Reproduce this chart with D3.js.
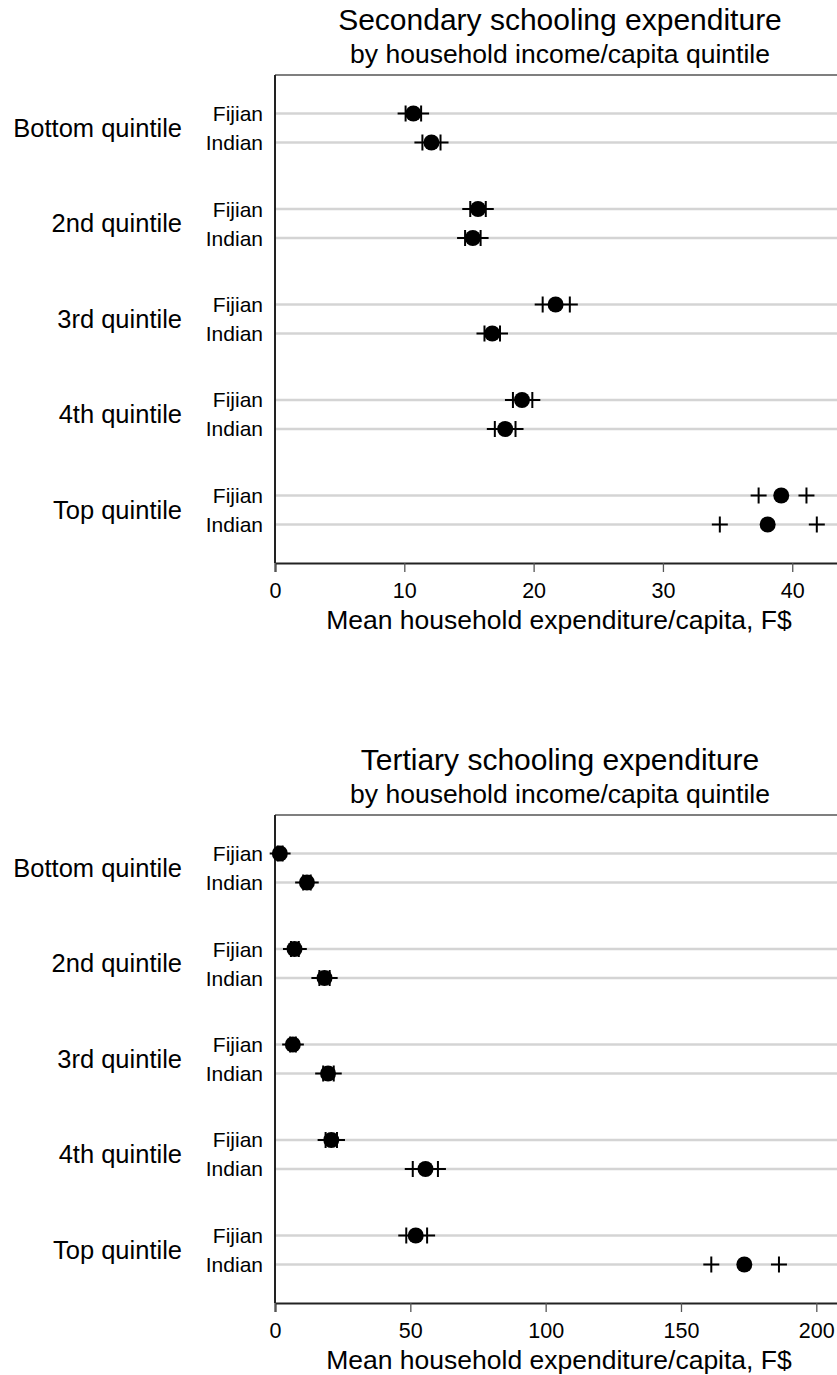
<!DOCTYPE html>
<html>
<head>
<meta charset="utf-8">
<script src="https://cdn.jsdelivr.net/npm/d3@7/dist/d3.min.js"></script>
<style>
  html, body { margin: 0; padding: 0; background: #fff; }
  svg { display: block; font-family: "Liberation Sans", Arial, Helvetica, sans-serif; }
</style>
</head>
<body>
<svg id="chart" width="837" height="1375"></svg>
<script>
// ---- data ----
const quintiles = ["Bottom quintile", "2nd quintile", "3rd quintile", "4th quintile", "Top quintile"];
const groups = ["Fijian", "Indian"];

// Secondary schooling expenditure
const secFijianMean = [10.7, 15.7, 21.7, 19.1, 39.15];
const secFijianLo   = [10.1, 15.1, 20.7, 18.4, 37.4];
const secFijianHi   = [11.3, 16.3, 22.8, 19.9, 41.1];
const secIndianMean = [12.1, 15.3, 16.8, 17.8, 38.1];
const secIndianLo   = [11.4, 14.7, 16.2, 17.0, 34.4];
const secIndianHi   = [12.8, 15.9, 17.4, 18.6, 41.9];
const secTicks = [0, 10, 20, 30, 40];

// Tertiary schooling expenditure
const terFijianMean = [1.8, 7.2, 6.6, 20.8, 52.0];
const terFijianLo   = [1.0, 5.9, 5.6, 18.7, 48.5];
const terFijianHi   = [2.8, 8.8, 7.7, 22.9, 56.2];
const terIndianMean = [11.8, 18.3, 19.6, 55.6, 173.4];
const terIndianLo   = [10.4, 16.4, 17.8, 50.9, 161.2];
const terIndianHi   = [13.2, 20.2, 21.7, 60.2, 186.2];
const terTicks = [0, 50, 100, 150, 200];

const subtitle = "by household income/capita quintile";
const xTitle = "Mean household expenditure/capita, F$";

function buildRows(fm, fl, fh, im, il, ih) {
  const rows = [];
  quintiles.forEach((q, i) => {
    rows.push({q, g: "Fijian", mean: fm[i], lo: fl[i], hi: fh[i]});
    rows.push({q, g: "Indian", mean: im[i], lo: il[i], hi: ih[i]});
  });
  return rows;
}

const svg = d3.select("#chart");

function panel(cfg) {
  const top = cfg.offset + 75, bottom = cfg.offset + 563;
  const left = 275, right = 845;
  const g = svg.append("g");

  const x = d3.scaleLinear().domain([0, cfg.xMax]).range([left, right]);
  const yq = d3.scalePoint().domain(quintiles).range([top, bottom]).padding(0.555);
  const yg = d3.scalePoint().domain(groups).range([-14.5, 14.5]);
  const yy = d => yq(d.q) + yg(d.g);

  // titles
  const cx = (left + right) / 2;
  g.append("text").attr("x", cx).attr("y", cfg.offset + 29.5)
    .attr("text-anchor", "middle").attr("font-size", 30).attr("fill", "#000").text(cfg.title);
  g.append("text").attr("x", cx).attr("y", cfg.offset + 63)
    .attr("text-anchor", "middle").attr("font-size", 26.5).attr("fill", "#000").text(subtitle);

  // gridlines
  g.selectAll("line.grid").data(cfg.rows).join("line").attr("class", "grid")
    .attr("x1", left).attr("x2", right).attr("y1", yy).attr("y2", yy)
    .attr("stroke", "#d4d4d4").attr("stroke-width", 2.5);

  // frame top and left
  g.append("line").attr("x1", left).attr("x2", right).attr("y1", top).attr("y2", top)
    .attr("stroke", "#555").attr("stroke-width", 1.5);
  g.append("line").attr("x1", left).attr("x2", left).attr("y1", top).attr("y2", bottom)
    .attr("stroke", "#222").attr("stroke-width", 2);

  // x axis
  const ax = g.append("g").attr("transform", `translate(0,${bottom})`)
    .call(d3.axisBottom(x).tickValues(cfg.ticks).tickFormat(d3.format("d")).tickSize(9).tickPadding(11));
  ax.select(".domain").attr("stroke", "#222").attr("stroke-width", 2);
  ax.selectAll(".tick line").attr("stroke", "#555").attr("stroke-width", 1.3);
  ax.selectAll(".tick text").attr("font-size", 21.5).attr("fill", "#000")
    .attr("font-family", "'Liberation Sans', Arial, sans-serif");
  ax.attr("font-size", null).attr("font-family", null);

  g.append("text").attr("x", cx - 1).attr("y", bottom + 66)
    .attr("text-anchor", "middle").attr("font-size", 26.5).attr("fill", "#000").text(xTitle);

  // row labels
  g.selectAll("text.row").data(cfg.rows).join("text").attr("class", "row")
    .attr("x", 263).attr("y", d => yy(d) + 7.5)
    .attr("text-anchor", "end").attr("font-size", 21).attr("fill", "#000").text(d => d.g);

  // quintile labels
  g.selectAll("text.quint").data(quintiles).join("text").attr("class", "quint")
    .attr("x", 182).attr("y", d => yq(d) + 8.7)
    .attr("text-anchor", "end").attr("font-size", 25.5).attr("fill", "#000").text(d => d);

  // CI plus markers
  const arm = 8;
  const plusPath = (px, py) => `M${px - arm},${py}H${px + arm}M${px},${py - arm}V${py + arm}`;
  g.selectAll("path.ci").data(cfg.rows.flatMap(d => [{d, v: d.lo}, {d, v: d.hi}])).join("path")
    .attr("class", "ci")
    .attr("d", e => plusPath(x(e.v), yy(e.d)))
    .attr("stroke", "#000").attr("stroke-width", 2).attr("fill", "none");

  // mean dots
  g.selectAll("circle.mean").data(cfg.rows).join("circle").attr("class", "mean")
    .attr("cx", d => x(d.mean)).attr("cy", yy).attr("r", 8).attr("fill", "#000");
}

panel({
  offset: 0,
  title: "Secondary schooling expenditure",
  xMax: 44.08,
  ticks: secTicks,
  rows: buildRows(secFijianMean, secFijianLo, secFijianHi, secIndianMean, secIndianLo, secIndianHi)
});

panel({
  offset: 740,
  title: "Tertiary schooling expenditure",
  xMax: 210.6,
  ticks: terTicks,
  rows: buildRows(terFijianMean, terFijianLo, terFijianHi, terIndianMean, terIndianLo, terIndianHi)
});
</script>
</body>
</html>
